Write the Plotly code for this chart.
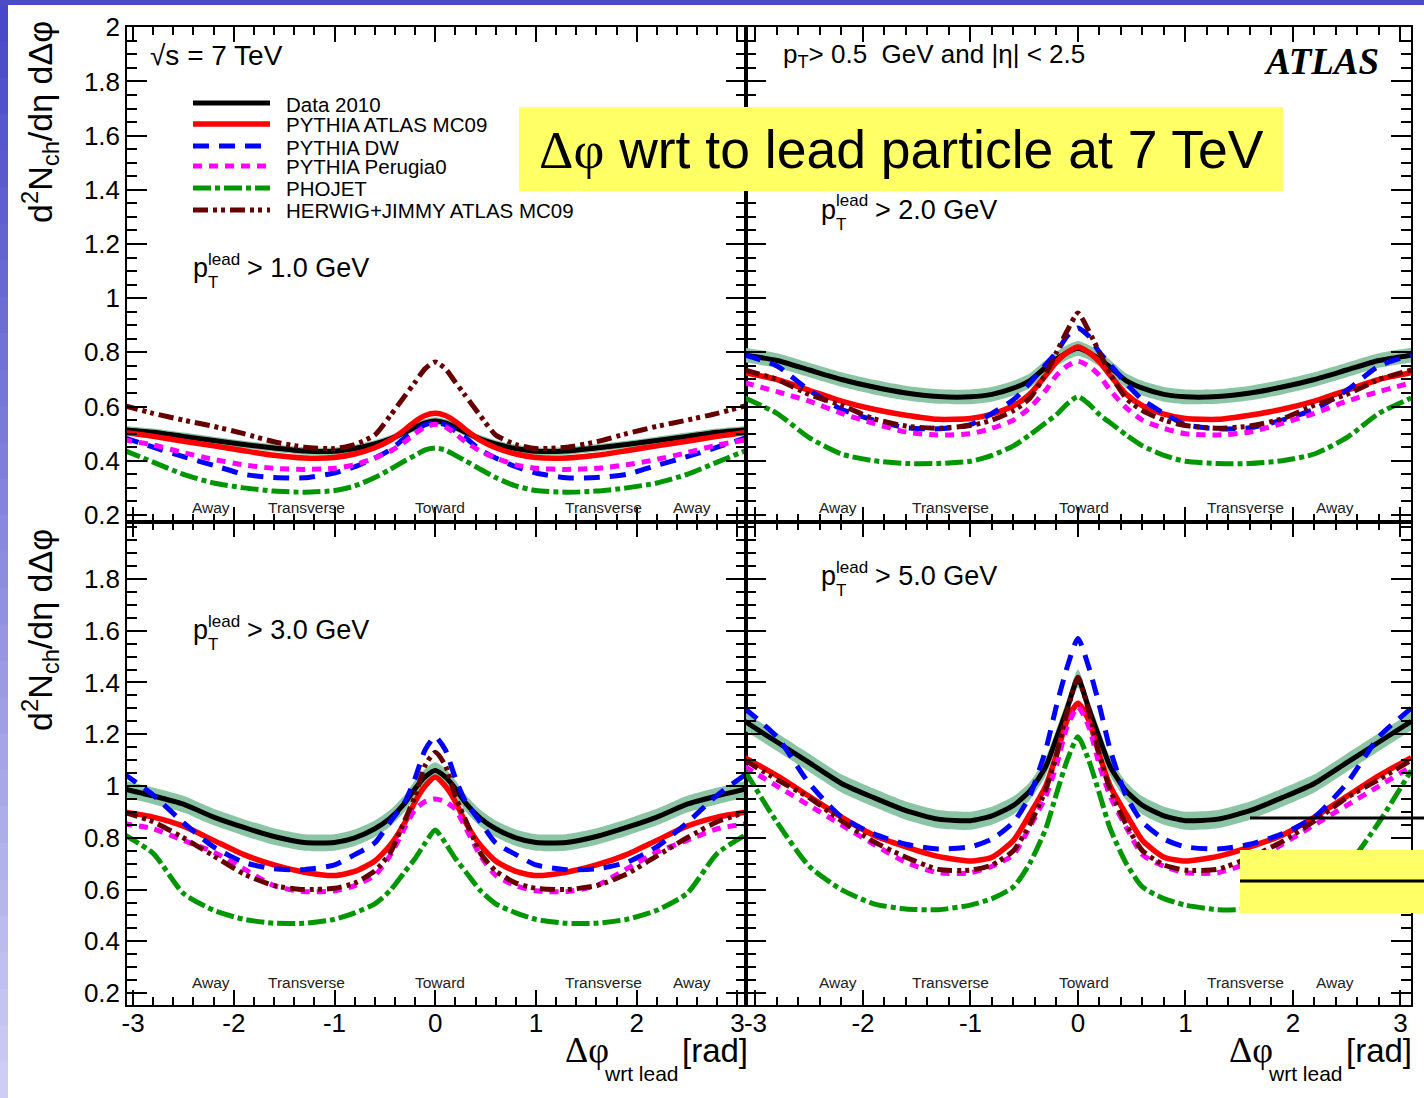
import plotly.graph_objects as go

W, H = 1424, 1098

# Delta-phi sample positions (rad) shared by every curve
dphi = [-3.1, -2.8, -2.5, -2.2, -1.9, -1.6, -1.3, -1.0, -0.8, -0.6, -0.45, -0.3, -0.2, -0.1, 0.0,
        0.1, 0.2, 0.3, 0.45, 0.6, 0.8, 1.0, 1.3, 1.6, 1.9, 2.2, 2.5, 2.8, 3.1]

# p_T^lead > 1.0 GeV
data_pt1 = [0.515, 0.505, 0.49, 0.475, 0.46, 0.447, 0.436, 0.435, 0.445, 0.462, 0.48, 0.505, 0.524, 0.54, 0.547,
            0.54, 0.524, 0.505, 0.48, 0.462, 0.445, 0.435, 0.436, 0.447, 0.46, 0.475, 0.49, 0.505, 0.515]
mc09_pt1 = [0.505, 0.49, 0.472, 0.455, 0.437, 0.42, 0.41, 0.412, 0.425, 0.448, 0.475, 0.515, 0.545, 0.567, 0.575,
            0.567, 0.545, 0.515, 0.475, 0.448, 0.425, 0.412, 0.41, 0.42, 0.437, 0.455, 0.472, 0.49, 0.505]
dw_pt1 = [0.487, 0.45, 0.415, 0.383, 0.35, 0.338, 0.337, 0.355, 0.378, 0.41, 0.44, 0.485, 0.51, 0.533, 0.542,
          0.533, 0.51, 0.485, 0.44, 0.41, 0.378, 0.355, 0.337, 0.338, 0.35, 0.383, 0.415, 0.45, 0.487]
p0_pt1 = [0.478, 0.458, 0.43, 0.405, 0.385, 0.372, 0.368, 0.372, 0.385, 0.41, 0.435, 0.47, 0.5, 0.525, 0.535,
          0.525, 0.5, 0.47, 0.435, 0.41, 0.385, 0.372, 0.368, 0.372, 0.385, 0.405, 0.43, 0.458, 0.478]
phojet_pt1 = [0.44, 0.395, 0.35, 0.318, 0.3, 0.288, 0.284, 0.29, 0.307, 0.338, 0.368, 0.4, 0.42, 0.44, 0.447,
              0.44, 0.42, 0.4, 0.368, 0.338, 0.307, 0.29, 0.284, 0.288, 0.3, 0.318, 0.35, 0.395, 0.44]
herwig_pt1 = [0.605, 0.575, 0.55, 0.527, 0.5, 0.47, 0.45, 0.445, 0.46, 0.495, 0.565, 0.64, 0.69, 0.74, 0.765,
              0.74, 0.69, 0.64, 0.565, 0.495, 0.46, 0.445, 0.45, 0.47, 0.5, 0.527, 0.55, 0.575, 0.605]

# p_T^lead > 2.0 GeV
data_pt2 = [0.79, 0.77, 0.735, 0.70, 0.672, 0.65, 0.637, 0.636, 0.645, 0.668, 0.695, 0.745, 0.775, 0.80, 0.815,
            0.80, 0.775, 0.745, 0.695, 0.668, 0.645, 0.636, 0.637, 0.65, 0.672, 0.70, 0.735, 0.77, 0.79]
mc09_pt2 = [0.725, 0.70, 0.66, 0.62, 0.59, 0.568, 0.553, 0.556, 0.572, 0.603, 0.645, 0.715, 0.765, 0.80, 0.82,
            0.80, 0.765, 0.715, 0.645, 0.603, 0.572, 0.556, 0.553, 0.568, 0.59, 0.62, 0.66, 0.70, 0.725]
dw_pt2 = [0.79, 0.75, 0.66, 0.59, 0.55, 0.522, 0.518, 0.533, 0.575, 0.625, 0.685, 0.755, 0.80, 0.86, 0.89,
          0.86, 0.80, 0.755, 0.685, 0.625, 0.575, 0.533, 0.518, 0.522, 0.55, 0.59, 0.66, 0.75, 0.79]
p0_pt2 = [0.688, 0.655, 0.62, 0.575, 0.538, 0.506, 0.495, 0.50, 0.52, 0.55, 0.595, 0.66, 0.715, 0.75, 0.767,
          0.75, 0.715, 0.66, 0.595, 0.55, 0.52, 0.50, 0.495, 0.506, 0.538, 0.575, 0.62, 0.655, 0.688]
phojet_pt2 = [0.632, 0.575, 0.485, 0.425, 0.40, 0.39, 0.39, 0.398, 0.42, 0.455, 0.495, 0.54, 0.57, 0.61, 0.637,
              0.61, 0.57, 0.54, 0.495, 0.455, 0.42, 0.398, 0.39, 0.39, 0.40, 0.425, 0.485, 0.575, 0.632]
herwig_pt2 = [0.735, 0.70, 0.645, 0.605, 0.555, 0.528, 0.52, 0.53, 0.55, 0.585, 0.63, 0.72, 0.80, 0.88, 0.945,
              0.88, 0.80, 0.72, 0.63, 0.585, 0.55, 0.53, 0.52, 0.528, 0.555, 0.605, 0.645, 0.70, 0.735]

# p_T^lead > 3.0 GeV
data_pt3 = [0.99, 0.962, 0.93, 0.88, 0.84, 0.805, 0.782, 0.782, 0.80, 0.835, 0.875, 0.935, 0.99, 1.035, 1.06,
            1.035, 0.99, 0.935, 0.875, 0.835, 0.80, 0.782, 0.782, 0.805, 0.84, 0.88, 0.93, 0.962, 0.99]
mc09_pt3 = [0.90, 0.88, 0.845, 0.79, 0.735, 0.695, 0.667, 0.654, 0.67, 0.71, 0.77, 0.86, 0.94, 1.0, 1.035,
            1.0, 0.94, 0.86, 0.77, 0.71, 0.67, 0.654, 0.667, 0.695, 0.735, 0.79, 0.845, 0.88, 0.90]
dw_pt3 = [1.05, 0.965, 0.858, 0.765, 0.705, 0.68, 0.677, 0.695, 0.735, 0.78, 0.86, 0.94, 1.03, 1.14, 1.19,
          1.14, 1.03, 0.94, 0.86, 0.78, 0.735, 0.695, 0.677, 0.68, 0.705, 0.765, 0.858, 0.965, 1.05]
p0_pt3 = [0.855, 0.835, 0.79, 0.745, 0.68, 0.615, 0.592, 0.595, 0.615, 0.655, 0.73, 0.84, 0.91, 0.94, 0.95,
          0.94, 0.91, 0.84, 0.73, 0.655, 0.615, 0.595, 0.592, 0.615, 0.68, 0.745, 0.79, 0.835, 0.855]
phojet_pt3 = [0.815, 0.74, 0.585, 0.52, 0.485, 0.47, 0.47, 0.485, 0.51, 0.545, 0.595, 0.67, 0.72, 0.78, 0.83,
              0.78, 0.72, 0.67, 0.595, 0.545, 0.51, 0.485, 0.47, 0.47, 0.485, 0.52, 0.585, 0.74, 0.815]
herwig_pt3 = [0.90, 0.862, 0.80, 0.73, 0.66, 0.615, 0.60, 0.605, 0.625, 0.672, 0.74, 0.87, 0.96, 1.08, 1.13,
              1.08, 0.96, 0.87, 0.74, 0.672, 0.625, 0.605, 0.60, 0.615, 0.66, 0.73, 0.80, 0.862, 0.90]

# p_T^lead > 5.0 GeV
data_pt5 = [1.25, 1.17, 1.09, 1.01, 0.955, 0.905, 0.872, 0.866, 0.885, 0.925, 0.98, 1.075, 1.185, 1.30, 1.415,
            1.30, 1.185, 1.075, 0.98, 0.925, 0.885, 0.866, 0.872, 0.905, 0.955, 1.01, 1.09, 1.17, 1.25]
mc09_pt5 = [1.11, 1.04, 0.96, 0.88, 0.81, 0.765, 0.728, 0.71, 0.725, 0.79, 0.89, 1.0, 1.12, 1.255, 1.32,
            1.255, 1.12, 1.0, 0.89, 0.79, 0.725, 0.71, 0.728, 0.765, 0.81, 0.88, 0.96, 1.04, 1.11]
dw_pt5 = [1.30, 1.19, 1.01, 0.88, 0.815, 0.775, 0.757, 0.765, 0.795, 0.86, 0.96, 1.14, 1.31, 1.46, 1.57,
          1.46, 1.31, 1.14, 0.96, 0.86, 0.795, 0.765, 0.757, 0.775, 0.815, 0.88, 1.01, 1.19, 1.30]
p0_pt5 = [1.075, 1.0, 0.925, 0.85, 0.775, 0.705, 0.665, 0.665, 0.69, 0.735, 0.84, 0.96, 1.08, 1.23, 1.305,
          1.23, 1.08, 0.96, 0.84, 0.735, 0.69, 0.665, 0.665, 0.705, 0.775, 0.85, 0.925, 1.0, 1.075]
phojet_pt5 = [1.06, 0.86, 0.69, 0.60, 0.545, 0.525, 0.522, 0.54, 0.565, 0.61, 0.70, 0.835, 0.97, 1.10, 1.19,
              1.10, 0.97, 0.835, 0.70, 0.61, 0.565, 0.54, 0.522, 0.525, 0.545, 0.60, 0.69, 0.86, 1.06]
herwig_pt5 = [1.10, 1.025, 0.955, 0.865, 0.785, 0.725, 0.678, 0.675, 0.695, 0.75, 0.85, 0.985, 1.12, 1.29, 1.42,
              1.29, 1.12, 0.985, 0.85, 0.75, 0.695, 0.675, 0.678, 0.725, 0.785, 0.865, 0.955, 1.025, 1.10]

# half-width of the data uncertainty band in each panel
band_pt1 = 0.014
band_pt2 = 0.027
band_pt3 = 0.032
band_pt5 = 0.035

series_names = ["Data 2010", "PYTHIA ATLAS MC09", "PYTHIA DW", "PYTHIA Perugia0", "PHOJET",
                "HERWIG+JIMMY ATLAS MC09"]
cut_labels = ["1.0", "2.0", "3.0", "5.0"]
region_labels = ["Away", "Transverse", "Toward", "Transverse", "Away"]
x_ticks = [-3, -2, -1, 0, 1, 2, 3]
x_ticktext = ["-3", "-2", "-1", "0", "1", "2", "3"]
y_ticks_top = [0.2, 0.4, 0.6, 0.8, 1.0, 1.2, 1.4, 1.6, 1.8, 2.0]
y_ticktext_top = ["0.2", "0.4", "0.6", "0.8", "1", "1.2", "1.4", "1.6", "1.8", "2"]
y_ticks_bot = [0.2, 0.4, 0.6, 0.8, 1.0, 1.2, 1.4, 1.6, 1.8]
y_ticktext_bot = ["0.2", "0.4", "0.6", "0.8", "1", "1.2", "1.4", "1.6", "1.8"]

FONT = "Liberation Sans, Arial, sans-serif"
SERIF = "Liberation Serif, Times New Roman, serif"

BAND_COLOR = "#8CC5A5"
mc_styles = [
    dict(color="#FF0000", width=5.5, dash="solid"),
    dict(color="#0000FF", width=5, dash="16px,10px"),
    dict(color="#FF00FF", width=5, dash="9px,7px"),
    dict(color="#009600", width=5, dash="18px,4px,5px,4px"),
    dict(color="#660000", width=5, dash="15px,5px,4px,4px,4px,5px"),
]


def px(x):
    return x / W


def py(y):
    return 1 - y / H


panels = [
    ("x", "y", data_pt1, band_pt1, [mc09_pt1, dw_pt1, p0_pt1, phojet_pt1, herwig_pt1]),
    ("x2", "y2", data_pt2, band_pt2, [mc09_pt2, dw_pt2, p0_pt2, phojet_pt2, herwig_pt2]),
    ("x3", "y3", data_pt3, band_pt3, [mc09_pt3, dw_pt3, p0_pt3, phojet_pt3, herwig_pt3]),
    ("x4", "y4", data_pt5, band_pt5, [mc09_pt5, dw_pt5, p0_pt5, phojet_pt5, herwig_pt5]),
]

fig = go.Figure()
for xa, ya, data, band, mcs in panels:
    lo = [v - band for v in data]
    hi = [v + band for v in data]
    common = dict(x=dphi, xaxis=xa, yaxis=ya, mode="lines", hoverinfo="skip", showlegend=False)
    fig.add_trace(go.Scatter(y=lo, line=dict(width=0, shape="spline", smoothing=0.6), **common))
    fig.add_trace(go.Scatter(y=hi, fill="tonexty", fillcolor=BAND_COLOR,
                             line=dict(width=0, shape="spline", smoothing=0.6), **common))
    fig.add_trace(go.Scatter(y=data, name=series_names[0],
                             line=dict(color="black", width=5, shape="spline", smoothing=0.6), **common))
    for name, vals, st in zip(series_names[1:], mcs, mc_styles):
        fig.add_trace(go.Scatter(y=vals, name=name,
                                 line=dict(color=st["color"], width=st["width"], dash=st["dash"],
                                           shape="spline", smoothing=0.6), **common))

LEFT = [127 / W, 746 / W]
RIGHT = [746 / W, 1411 / W]
TOP = [1 - 522 / H, 1 - 27 / H]
BOT = [1 - 1005 / H, 1 - 522 / H]
XR_L = [-3.06, 3.085]
XR_R = [-3.088, 3.098]
YR_T = [0.174, 2.001]
YR_B = [0.154, 2.02]

tickfont = dict(family=FONT, size=26, color="black")


def xaxis(domain, anchor, rng, labels):
    return dict(domain=domain, anchor=anchor, range=rng, showgrid=False, zeroline=False,
                showline=True, linecolor="black", linewidth=1.5, mirror="ticks",
                ticks="inside", ticklen=15, tickwidth=1.5, tickcolor="black",
                tickmode="array", tickvals=x_ticks, ticktext=x_ticktext,
                showticklabels=labels, tickfont=tickfont, ticklabelstandoff=-6,
                minor=dict(tickmode="linear", tick0=0, dtick=0.2, ticks="inside", ticklen=8,
                           tickwidth=1.5, tickcolor="black", showgrid=False))


def yaxis(domain, anchor, rng, vals, text, labels):
    return dict(domain=domain, anchor=anchor, range=rng, showgrid=False, zeroline=False,
                showline=True, linecolor="black", linewidth=1.5, mirror="ticks",
                ticks="inside", ticklen=20, tickwidth=1.5, tickcolor="black",
                tickmode="array", tickvals=vals, ticktext=text,
                showticklabels=labels, tickfont=tickfont,
                minor=dict(tickmode="linear", tick0=0, dtick=0.05, ticks="inside", ticklen=10,
                           tickwidth=1.5, tickcolor="black", showgrid=False))


shapes = []
annotations = []

# slide frame: blue strip on top, graded strip on the left
shapes.append(dict(type="rect", xref="paper", yref="paper", x0=0, x1=1, y0=py(5), y1=1,
                   fillcolor="#4B4BC8", line=dict(width=0), layer="below"))
n_strips = 30
c0 = (72, 72, 200)
c1 = (205, 205, 245)
for i in range(n_strips):
    t = i / (n_strips - 1)
    col = "rgb(%d,%d,%d)" % tuple(round(a + (b - a) * t) for a, b in zip(c0, c1))
    shapes.append(dict(type="rect", xref="paper", yref="paper", x0=0, x1=px(8),
                       y0=py(5 + (i + 1) * (H - 5) / n_strips) - 0.001, y1=py(5 + i * (H - 5) / n_strips),
                       fillcolor=col, line=dict(width=0), layer="below"))


def text(x, y, s, size, anchor="left", family=FONT, color="black", angle=0):
    annotations.append(dict(x=px(x), y=py(y), xref="paper", yref="paper", text=s, showarrow=False,
                            xanchor=anchor, yanchor="middle", textangle=angle,
                            font=dict(family=family, size=size, color=color)))


# legend
leg_y = [103, 124, 146, 166, 188, 210]
leg_styles = [dict(color="black", width=5, dash="solid")] + mc_styles
for name, yy, st in zip(series_names, leg_y, leg_styles):
    shapes.append(dict(type="line", xref="paper", yref="paper", x0=px(193), x1=px(270), y0=py(yy), y1=py(yy),
                       line=dict(color=st["color"], width=st["width"], dash=st["dash"])))
    text(284, yy + 1, name, 20.5)

# headline labels
text(148, 55, "√s = 7 TeV", 28)
text(781, 56, "p<sub>T</sub>> 0.5\u00a0\u00a0GeV and |η| < 2.5", 26)
text(1262, 62, "<b><i>ATLAS</i></b>", 37, family=SERIF)

# leading-particle thresholds with stacked super/subscripts
cut_pos = [(191, 268), (819, 210), (191, 630), (819, 576)]
for lab, (xx, yy) in zip(cut_labels, cut_pos):
    text(xx, yy, "p", 27)
    text(xx + 15, yy - 9, "lead", 17)
    text(xx + 15, yy + 14, "T", 17)
    text(xx + 54, yy, "> %s GeV" % lab, 27)

# region names along each panel
reg_x_left = [211, 306, 440, 603, 692]
reg_x_right = [838, 950, 1084, 1245, 1335]
for row_y in (508, 982):
    for xs in (reg_x_left, reg_x_right):
        for lab, xx in zip(region_labels, xs):
            text(xx, row_y, lab, 15.5, anchor="center", color="#222222")

# axis titles
ytitle = "d<sup>2</sup>N<sub>ch</sub>/dη dΔφ"
text(40, 122, ytitle, 34, anchor="center", angle=-90)
text(40, 630, ytitle, 34, anchor="center", angle=-90)
for x0 in (563, 1227):
    text(x0, 1050, "Δφ", 36, family=SERIF)
    text(x0 + 39, 1073, "wrt lead", 21)
    text(x0 + 117, 1050, "[rad]", 33)

# highlighted caption
shapes.append(dict(type="rect", xref="paper", yref="paper", x0=px(519), x1=px(1283), y0=py(191), y1=py(107),
                   fillcolor="#FFFF66", line=dict(width=0), layer="above"))
annotations.append(dict(x=px(901), y=py(150), xref="paper", yref="paper", showarrow=False,
                        xanchor="center", yanchor="middle",
                        text='<span style="font-family:Liberation Serif">Δφ</span> wrt to lead particle at 7 TeV',
                        font=dict(family=FONT, size=53.5, color="black")))

# overlay marks in the lower right
shapes.append(dict(type="line", xref="paper", yref="paper", x0=px(1250), x1=1, y0=py(818), y1=py(818),
                   line=dict(color="black", width=3)))
shapes.append(dict(type="rect", xref="paper", yref="paper", x0=px(1240), x1=1, y0=py(913), y1=py(850),
                   fillcolor="#FFFF66", line=dict(width=0), layer="above"))
shapes.append(dict(type="line", xref="paper", yref="paper", x0=px(1240), x1=1, y0=py(881), y1=py(881),
                   line=dict(color="black", width=3)))

fig.update_layout(
    width=W, height=H, margin=dict(l=0, r=0, t=0, b=0, pad=0, autoexpand=False),
    paper_bgcolor="white", plot_bgcolor="white", showlegend=False,
    xaxis=xaxis(LEFT, "y", XR_L, False),
    yaxis=yaxis(TOP, "x", YR_T, y_ticks_top, y_ticktext_top, True),
    xaxis2=xaxis(RIGHT, "y2", XR_R, False),
    yaxis2=yaxis(TOP, "x2", YR_T, y_ticks_top, y_ticktext_top, False),
    xaxis3=xaxis(LEFT, "y3", XR_L, True),
    yaxis3=yaxis(BOT, "x3", YR_B, y_ticks_bot, y_ticktext_bot, True),
    xaxis4=xaxis(RIGHT, "y4", XR_R, True),
    yaxis4=yaxis(BOT, "x4", YR_B, y_ticks_bot, y_ticktext_bot, False),
    shapes=shapes, annotations=annotations,
)

# page reset: no body margin or scrollbars around the fixed-size figure
page_css = ("var s=document.createElement('style');"
            "s.innerHTML='html,body{margin:0;padding:0;overflow:hidden}';"
            "document.head.appendChild(s);")
fig.write_html("out.html", config={"displayModeBar": False}, post_script=page_css)
